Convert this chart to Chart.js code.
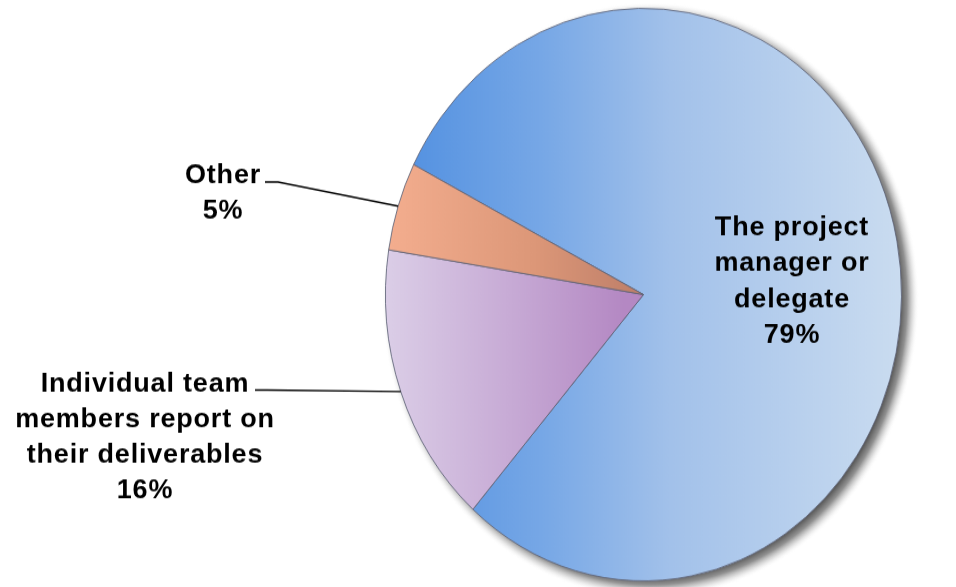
<!DOCTYPE html>
<html>
<head>
<meta charset="utf-8">
<script src="https://cdn.jsdelivr.net/npm/chart.js@4"></script>
<style>
  html, body { margin: 0; padding: 0; background: #fff; overflow: hidden; }
  #wrap { width: 956px; height: 587px; position: relative; }
  /* the source picture is slightly taller than wide, so the round pie is stretched */
  #pie { position: absolute; left: 0; top: 0; transform: scaleY(1.1096); transform-origin: 0 0; }
</style>
</head>
<body>
<div id="wrap"><canvas id="pie" width="956" height="529"></canvas></div>
<script>
const categories = ['The project manager or delegate', 'Individual team members report on their deliverables', 'Other'];
const shares = [79, 16, 5];
const labelLines = [
    ['The project', 'manager or', 'delegate', '79%'],
    ['Individual team', 'members report on', 'their deliverables', '16%'],
    ['Other', '5%']
];
const STRETCH = 1.1096;

const sliceFill = (ctx) => {
    const area = ctx.chart.chartArea;
    if (!area) return '#8fb4e6';
    const c = ctx.chart.ctx;
    let g;
    if (ctx.dataIndex === 0) {
        g = c.createLinearGradient(area.left, 0, area.right, 0);
        g.addColorStop(0, '#4e8ee0');
        g.addColorStop(0.3, '#76a7e6');
        g.addColorStop(0.55, '#a2c1ea');
        g.addColorStop(1, '#cadcf0');
    } else if (ctx.dataIndex === 1) {
        g = c.createLinearGradient(area.left, 0, area.left + 240, 0);
        g.addColorStop(0, '#dbcee7');
        g.addColorStop(0.5, '#c8acd6');
        g.addColorStop(1, '#b488c3');
    } else {
        g = c.createLinearGradient(area.left, 0, area.left + 250, 0);
        g.addColorStop(0, '#f4ae8f');
        g.addColorStop(0.6, '#dc9778');
        g.addColorStop(1, '#c0806a');
    }
    return g;
};

// drop shadow: a radial fade filled as a rectangle, the pie then covers its middle
const pieShadow = {
    id: 'pieShadow',
    beforeDatasetsDraw(chart) {
        const a = chart.chartArea;
        const r = Math.min(a.right - a.left, a.bottom - a.top) / 2;
        const cx = (a.left + a.right) / 2 + 7;
        const cy = (a.top + a.bottom) / 2 + 5;
        const c = chart.ctx;
        const g = c.createRadialGradient(cx, cy, r - 10, cx, cy, r + 10);
        g.addColorStop(0, 'rgba(45,45,45,0.85)');
        g.addColorStop(0.4, 'rgba(70,70,70,0.6)');
        g.addColorStop(0.7, 'rgba(130,130,130,0.25)');
        g.addColorStop(1, 'rgba(255,255,255,0)');
        c.save();
        c.fillStyle = g;
        c.fillRect(a.left - 30, a.top - 30, a.right - a.left + 60, a.bottom - a.top + 60);
        c.restore();
    }
};

const sliceLabels = {
    id: 'sliceLabels',
    afterDraw(chart) {
        const ctx = chart.ctx;
        const arcs = chart.getDatasetMeta(0).data;

        // leader lines for the two small slices
        const leaders = [
            { i: 1, x0: 255, x1: 267, y: 351.5 },
            { i: 2, x0: 265, x1: 278, y: 164 }
        ];
        ctx.save();
        ctx.strokeStyle = '#000';
        ctx.lineWidth = 1.4;
        leaders.forEach(l => {
            const a = arcs[l.i];
            const mid = (a.startAngle + a.endAngle) / 2;
            ctx.beginPath();
            ctx.moveTo(l.x0, l.y);
            ctx.lineTo(l.x1, l.y);
            ctx.lineTo(a.x + Math.cos(mid) * a.outerRadius, a.y + Math.sin(mid) * a.outerRadius);
            ctx.stroke();
        });
        ctx.restore();

        // text is drawn unstretched
        ctx.save();
        ctx.scale(1, 1 / STRETCH);
        ctx.font = 'bold 27px "Liberation Sans"';
        ctx.letterSpacing = '0.8px';
        ctx.fillStyle = '#000';
        ctx.textAlign = 'center';
        ctx.textBaseline = 'alphabetic';
        const place = [
            { x: 792, y: 235, step: 36 },
            { x: 145, y: 392, step: 35.4 },
            { x: 223, y: 183, step: 36 }
        ];
        labelLines.forEach((lines, i) => {
            lines.forEach((t, k) => ctx.fillText(t, place[i].x, place[i].y + k * place[i].step));
        });
        ctx.restore();
    }
};

new Chart(document.getElementById('pie'), {
    type: 'pie',
    data: {
        labels: categories,
        datasets: [{
            data: shares,
            backgroundColor: sliceFill,
            borderColor: 'rgba(95,100,120,0.85)',
            borderWidth: 1
        }]
    },
    options: {
        responsive: false,
        animation: false,
        rotation: 297,
        layout: { padding: { left: 385, right: 54, top: 7, bottom: 5 } },
        plugins: {
            legend: { display: false },
            tooltip: { enabled: false }
        }
    },
    plugins: [pieShadow, sliceLabels]
});
</script>
</body>
</html>
